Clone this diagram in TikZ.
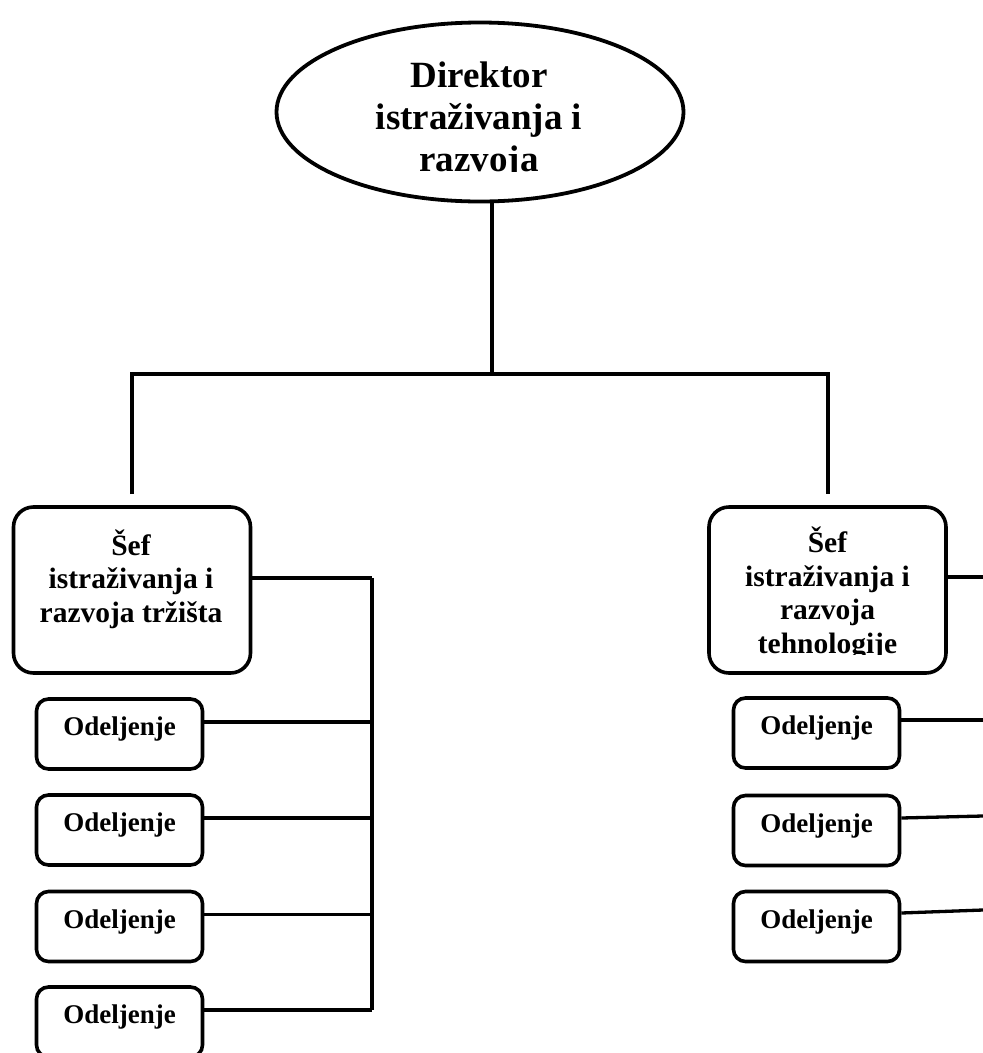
\documentclass[tikz,border=0pt]{standalone}
\usepackage{fontspec}
\setmainfont{Liberation Serif}
\usetikzlibrary{shapes.geometric}

\begin{document}
\begin{tikzpicture}[x=1pt, y=-1pt,
  headshape/.style={ellipse, draw, line width=3.8pt, inner sep=0pt,
    minimum width=407, minimum height=179},
  bigbox/.style={draw, line width=3.6pt, rounded corners=20pt, inner sep=0pt,
    minimum width=237, minimum height=166},
  deptbox/.style={draw, line width=3.6pt, rounded corners=12pt, inner sep=0pt,
    minimum width=166, minimum height=70,
    font=\bfseries\fontsize{27}{32}\selectfont, text height=0.6em, text depth=0.3em},
  headtext/.style={anchor=base, align=center, inner sep=0pt,
    font=\bfseries\fontsize{37}{42}\selectfont},
  boxtext/.style={anchor=base, align=center, inner sep=0pt,
    font=\bfseries\fontsize{29.5}{33.5}\selectfont},
  trunk/.style={line width=4pt},
  conn/.style={line width=3.3pt},
]
\clip (0,0) rectangle (983,1053);

% top level (text anchored on the baseline of its last line)
\node[headshape] (dir) at (480,112) {};
\begin{scope}
  \clip (270,30) rectangle (700,171);
  \node[headtext] (dirtext) at (479,171) {Direktor\\istraživanja i\\razvoja};
\end{scope}

% second level
\node[bigbox] (sefL) at (132,590) {};
\node[boxtext] (sefLtext) at (131,622) {Šef\\istraživanja i\\razvoja tržišta};
\node[bigbox] (sefR) at (827.5,590) {};
\begin{scope}
  \clip (700,520) rectangle (960,654);
  \node[boxtext] (sefRtext) at (827.5,653) {Šef\\istraživanja i\\razvoja\\tehnologije};
\end{scope}

% departments
\node[deptbox] (odL1) at (119.5,734) {Odeljenje};
\node[deptbox] (odL2) at (119.5,830) {Odeljenje};
\node[deptbox] (odL3) at (119.5,926.5) {Odeljenje};
\node[deptbox] (odL4) at (119.5,1022) {Odeljenje};
\node[deptbox] (odR1) at (816.5,733) {Odeljenje};
\node[deptbox] (odR2) at (816.5,830.5) {Odeljenje};
\node[deptbox] (odR3) at (816.5,926.5) {Odeljenje};

% connector points
\coordinate (top) at (492,374);
\coordinate (lbus) at (372,578);
\coordinate (rE0) at (983,577);
\coordinate (rE1) at (983,720);
\coordinate (rE2) at (983,816);
\coordinate (rE3) at (983,910);

% director to the two heads
\draw[trunk] (dir.south -| top) -- (top);
\draw[trunk, shorten <=11pt, shorten >=11pt]
  (sefL.north) -- (sefL.north |- top) -- (sefR.north |- top) -- (sefR.north);

% left branch
\draw[conn] (sefL.east |- lbus) -- (lbus);
\draw[trunk] (lbus) -- ([yshift=12pt]odL4.east -| lbus);
\foreach \n in {odL1,odL2,odL3,odL4}
  \draw[conn] ([yshift=12pt]\n.east) -- ([yshift=12pt]\n.east -| lbus);

% right branch
\draw[conn] (sefR.east |- rE0) -- (rE0);
\draw[conn] ([yshift=13pt]odR1.east) -- (rE1);
\draw[conn] ([yshift=12.5pt]odR2.east) -- (rE2);
\draw[conn] ([yshift=13.5pt]odR3.east) -- (rE3);
\end{tikzpicture}
\end{document}
